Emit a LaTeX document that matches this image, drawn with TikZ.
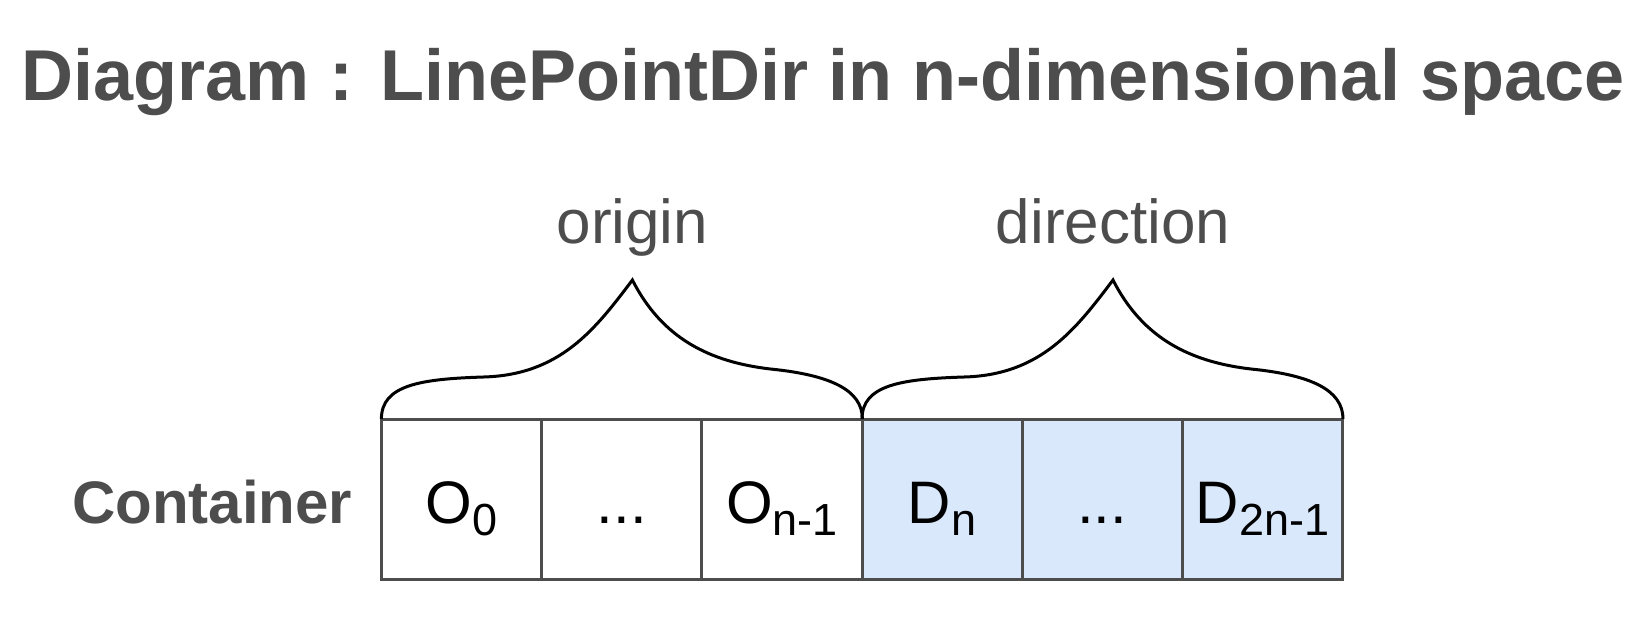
\documentclass[tikz,border=0pt]{standalone}
\usepackage{fontspec}
\setmainfont{Liberation Sans}
\usetikzlibrary{positioning}

\definecolor{txtgray}{HTML}{4D4D4D}
\definecolor{dirblue}{HTML}{DAE8FC}
\newcommand\lowsub[1]{\raisebox{-12pt}{\fontsize{45}{45}\selectfont #1}}

\tikzset{
  cell/.style={draw=txtgray, line width=3pt, minimum width=160.2pt, minimum height=160pt,
    inner sep=0pt, outer sep=0pt, text height=48pt, text depth=0pt, font=\fontsize{60}{72}\selectfont},
  dircell/.style={cell, fill=dirblue},
  bracetext/.style={text=txtgray, inner sep=0pt, text depth=0pt, font=\fontsize{62}{72}\selectfont},
  bracepic/.pic={
    \draw[line width=3pt] (0,0) .. controls (0,-34) and (39,-40) .. (102,-42)
      .. controls (179,-44) and (214,-90) .. (251,-139)
      .. controls (281,-80) and (329,-57) .. (389,-50)
      .. controls (449,-44) and (481,-29) .. (481,0);
  }
}

\begin{document}
\begin{tikzpicture}[x=1pt, y=-1pt]
  \useasboundingbox (0,0) rectangle (1650,638);
  \node[anchor=base, text=txtgray, inner sep=0pt, font=\bfseries\fontsize{72}{80}\selectfont] (title) at (823,100) {Diagram : LinePointDir in n-dimensional space};%

  % the container cells
  \node[cell] (o0) at (461.5,499) {O\lowsub{0}};%
  \node[cell, right=0pt of o0] (odots) {...};%
  \node[cell, right=0pt of odots] (on) {O\lowsub{n-1}};%
  \node[dircell, right=0pt of on] (dn) {D\lowsub{n}};%
  \node[dircell, right=0pt of dn] (ddots) {...};%
  \node[dircell, right=0pt of ddots] (d2n) {D\lowsub{2n-1}};%
  \node[left=29pt of o0, inner sep=0pt, text=txtgray, text height=48pt, text depth=0pt, font=\bfseries\fontsize{60}{72}\selectfont] (cont) {Container};%

  % braces and their labels
  \pic at (o0.north west) {bracepic};%
  \pic at (dn.north west) {bracepic};%
  \coordinate (opeak) at ([xshift=251pt, yshift=139pt]o0.north west);%
  \coordinate (dpeak) at ([xshift=251pt, yshift=139pt]dn.north west);%
  \node[bracetext, above=36pt of opeak] (origin) {origin};%
  \node[bracetext, above=36pt of dpeak] (direction) {direction};%
\end{tikzpicture}
\end{document}
